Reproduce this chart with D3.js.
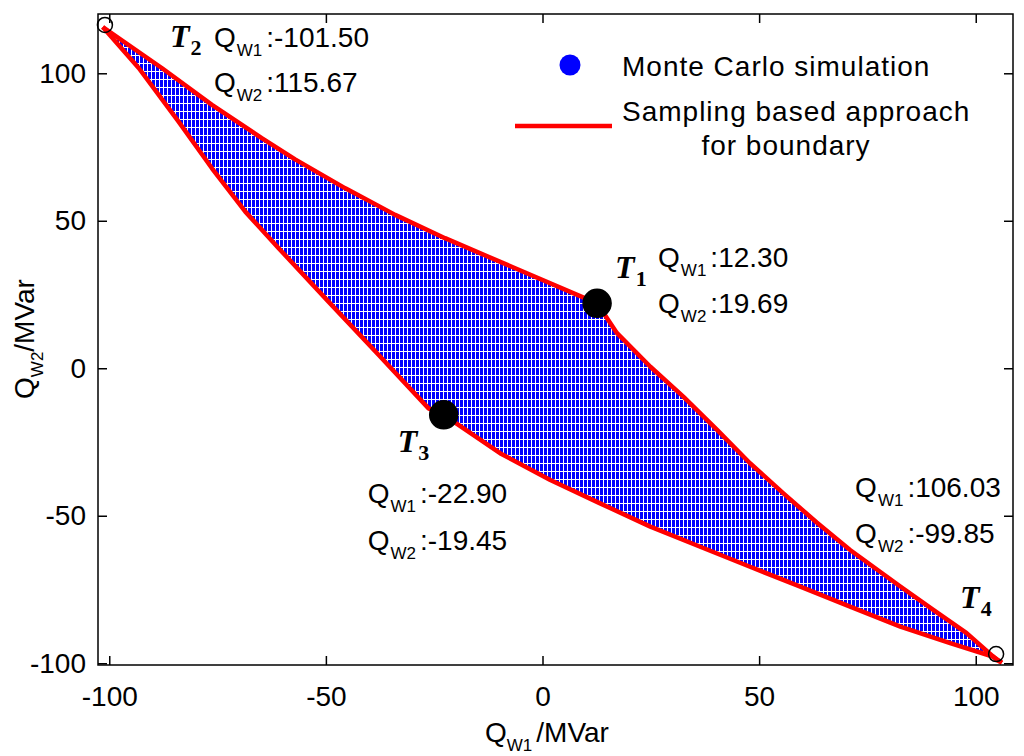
<!DOCTYPE html>
<html>
<head>
<meta charset="utf-8">
<script src="https://cdn.jsdelivr.net/npm/d3@7"></script>
<style>
  body { margin: 0; background: #fff; }
  text { font-family: "Liberation Sans", Arial, sans-serif; fill: #000; }
</style>
</head>
<body>
<div id="chart"></div>
<script>
// boundary of the feasible region, [Qw1, Qw2] in MVar
const upperBoundary = [
  [-101.5, 115.67], [-87.8, 101.7], [-76.3, 89.3], [-64.8, 78.0], [-57.1, 70.8],
  [-45.5, 61.0], [-34.0, 52.0], [-22.5, 44.1], [-6.3, 33.9], [12.6, 22.0],
  [17.2, 11.9], [24.9, 0.5], [32.5, -9.6], [40.3, -20.9], [47.9, -32.2],
  [55.6, -42.4], [63.3, -52.3], [71.0, -61.6], [82.6, -74.0], [90.2, -81.9],
  [97.9, -89.8], [104.9, -98.9], [106.03, -99.85]
];
const lowerBoundary = [
  [-101.5, 115.67], [-93.2, 101.8], [-84.0, 83.6], [-76.3, 67.8], [-68.6, 53.1],
  [-60.9, 40.7], [-49.4, 22.6], [-37.8, 4.5], [-26.3, -13.6], [-22.8, -15.8],
  [-9.8, -28.8], [1.8, -37.9], [13.3, -45.8], [24.9, -53.7], [36.4, -60.5],
  [47.9, -67.3], [59.5, -74.0], [71.0, -80.8], [82.6, -87.6], [94.1, -93.2],
  [104.1, -97.8], [106.03, -99.85]
];

// special points T1..T4
const pointNames = ["1", "2", "3", "4"];
const pointQw1 = [12.6, -101.0, -22.8, 104.7];
const pointQw2 = [22.0, 116.4, -15.8, -96.9];
const pointFilled = [true, false, true, false];
const labelQw1 = ["12.30", "-101.50", "-22.90", "106.03"];
const labelQw2 = ["19.69", "115.67", "-19.45", "-99.85"];

const xTicks = [-100, -50, 0, 50, 100];
const yTicks = [-100, -50, 0, 50, 100];

const legendLabels = ["Monte Carlo simulation", "Sampling based approach", "for boundary"];

const W = 1024, H = 756;
const plotL = 98, plotR = 1013, plotT = 14, plotB = 665;

const svg = d3.select("#chart").append("svg")
    .attr("width", W)
    .attr("height", H);

const x = d3.scaleLinear().domain([-102.6, 108.6]).range([plotL, plotR]);
const y = d3.scaleLinear().domain([-100.6, 120.1]).range([plotB, plotT]);

// dotted look of the Monte Carlo cloud
const defs = svg.append("defs");
const pat = defs.append("pattern")
    .attr("id", "mc")
    .attr("patternUnits", "userSpaceOnUse")
    .attr("width", 4)
    .attr("height", 8);
pat.append("rect").attr("width", 4).attr("height", 8).attr("fill", "#0000ff");
pat.append("rect").attr("x", 3).attr("width", 1).attr("height", 8).attr("fill", "#ffffff");
pat.append("rect").attr("y", 7).attr("width", 4).attr("height", 1).attr("fill", "#ffffff");

const line = d3.line().x(d => x(d[0])).y(d => y(d[1]));

const region = upperBoundary.concat(lowerBoundary.slice().reverse());
svg.append("path")
    .attr("d", line(region) + "Z")
    .attr("fill", "url(#mc)")
    .attr("shape-rendering", "crispEdges");

svg.selectAll(".boundary")
    .data([upperBoundary, lowerBoundary])
    .enter().append("path")
    .attr("class", "boundary")
    .attr("d", line)
    .attr("fill", "none")
    .attr("stroke", "#ff0000")
    .attr("stroke-width", 4.5)
    .attr("stroke-linejoin", "round");

// axes (ticks pointing inward, box on)
const fs = "28px";
const fmt = d => String(d);
svg.append("g")
    .attr("transform", "translate(0," + plotB + ")")
    .call(d3.axisBottom(x).tickValues(xTicks).tickFormat(fmt).tickSizeInner(-9).tickSizeOuter(0).tickPadding(21));
svg.append("g")
    .attr("transform", "translate(" + plotL + ",0)")
    .call(d3.axisLeft(y).tickValues(yTicks).tickFormat(fmt).tickSizeInner(-9).tickSizeOuter(0).tickPadding(12));
svg.append("g")
    .attr("transform", "translate(0," + plotT + ")")
    .call(d3.axisTop(x).tickValues(xTicks).tickSizeInner(-9).tickSizeOuter(0).tickFormat(""));
svg.append("g")
    .attr("transform", "translate(" + plotR + ",0)")
    .call(d3.axisRight(y).tickValues(yTicks).tickSizeInner(-9).tickSizeOuter(0).tickFormat(""));

svg.selectAll(".domain").remove();
svg.selectAll(".tick line").attr("stroke", "#000").attr("stroke-width", 1.5);
svg.selectAll(".tick text")
    .style("font-size", fs)
    .style("font-family", "'Liberation Sans', Arial, sans-serif")
    .attr("fill", "#000");

svg.append("rect")
    .attr("x", plotL).attr("y", plotT)
    .attr("width", plotR - plotL).attr("height", plotB - plotT)
    .attr("fill", "none")
    .attr("stroke", "#000")
    .attr("stroke-width", 1.5);

// axis titles
const xt = svg.append("text")
    .attr("x", 547).attr("y", 742)
    .attr("text-anchor", "middle")
    .style("font-size", fs);
xt.append("tspan").text("Q");
xt.append("tspan").attr("dy", 9).style("font-size", "17px").text("W1");
xt.append("tspan").attr("dy", -9).attr("dx", 4).text("/MVar");

const yt = svg.append("text")
    .attr("transform", "translate(34,339) rotate(-90)")
    .attr("text-anchor", "middle")
    .style("font-size", fs);
yt.append("tspan").text("Q");
yt.append("tspan").attr("dy", 9).style("font-size", "17px").text("W2");
yt.append("tspan").attr("dy", -9).text("/MVar");

// markers
const pts = pointNames.map((n, i) => ({
  name: n, qw1: pointQw1[i], qw2: pointQw2[i], filled: pointFilled[i],
  l1: labelQw1[i], l2: labelQw2[i]
}));

svg.selectAll(".marker")
    .data(pts)
    .enter().append("circle")
    .attr("class", "marker")
    .attr("cx", d => x(d.qw1))
    .attr("cy", d => y(d.qw2))
    .attr("r", d => d.filled ? 14 : 7.5)
    .attr("fill", d => d.filled ? "#000" : "#fff")
    .attr("fill-opacity", d => d.filled ? 1 : 0)
    .attr("stroke", "#000")
    .attr("stroke-width", 1.5);

// annotation offsets (px) relative to each marker: T label, Q block start, line 1 / line 2 baselines
const annot = {
  "1": { tx: 18, ty: -25, qx: 61, q1: -36, q2: 10 },
  "2": { tx: 65, ty: 22, qx: 109, q1: 22, q2: 67 },
  "3": { tx: -46, ty: 37, qx: -76, q1: 88, q2: 135 },
  "4": { tx: -36, ty: -46, qx: -141, q1: -157, q2: -111 }
};

pts.forEach(d => {
  const px = x(d.qw1), py = y(d.qw2), a = annot[d.name];
  const t = svg.append("text")
      .attr("x", px + a.tx).attr("y", py + a.ty)
      .style("font-family", "'Liberation Serif', 'Times New Roman', serif")
      .style("font-weight", "bold")
      .style("font-style", "italic")
      .style("font-size", "32px");
  t.append("tspan").text("T");
  t.append("tspan").attr("dy", 8).attr("dx", 1)
      .style("font-style", "normal").style("font-size", "22px").text(d.name);

  [[d.l1, "W1", a.q1], [d.l2, "W2", a.q2]].forEach(r => {
    const q = svg.append("text")
        .attr("x", px + a.qx).attr("y", py + r[2])
        .style("font-size", fs);
    q.append("tspan").text("Q");
    q.append("tspan").attr("dy", 9).attr("dx", 1).style("font-size", "17px").text(r[1]);
    q.append("tspan").attr("dy", -9).attr("dx", 4).text(":" + r[0]);
  });
});

// legend
svg.append("circle")
    .attr("cx", 570).attr("cy", 65).attr("r", 10.5)
    .attr("fill", "#0000ff");
svg.append("line")
    .attr("x1", 515).attr("x2", 612).attr("y1", 126).attr("y2", 126)
    .attr("stroke", "#ff0000").attr("stroke-width", 4.5);
svg.append("text").attr("x", 622).attr("y", 76)
    .style("font-size", fs).style("letter-spacing", "1px").text(legendLabels[0]);
svg.append("text").attr("x", 622).attr("y", 121)
    .style("font-size", fs).style("letter-spacing", "1px").text(legendLabels[1]);
svg.append("text").attr("x", 786).attr("y", 155)
    .attr("text-anchor", "middle")
    .style("font-size", fs).style("letter-spacing", "1px").text(legendLabels[2]);
</script>
</body>
</html>
